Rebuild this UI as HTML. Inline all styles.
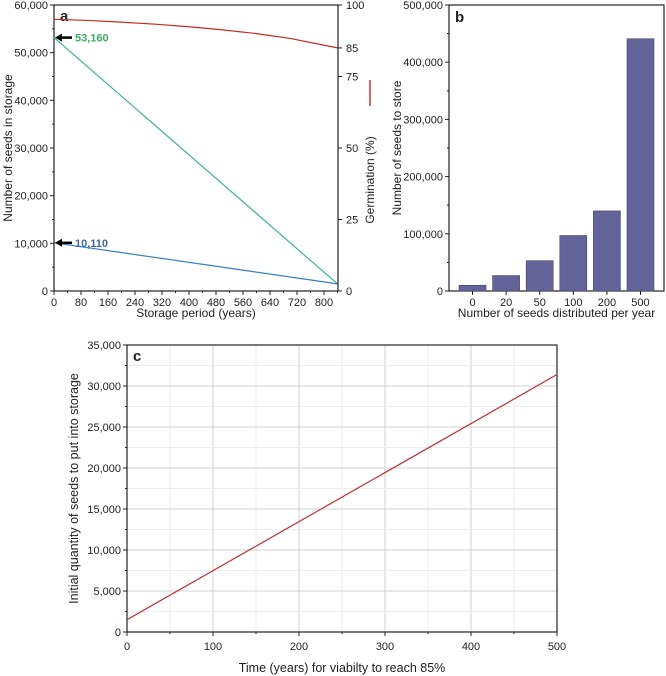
<!DOCTYPE html>
<html><head><meta charset="utf-8"><style>
body{margin:0;background:#fff;}
svg{display:block;font-family:"Liberation Sans",Arial,sans-serif;}
</style></head><body>
<svg id="s" width="666" height="676" viewBox="0 0 666 676">
<g id="A"></g>
<g id="B"></g>
<g id="C"></g>
</svg>
<script>
// Panel a data
const aYears = [0, 840];
const aGreen = [53160, 1500];
const aBlue = [10110, 1500];
const aRedYears = [0, 100, 200, 300, 400, 500, 600, 700, 840];
const aRedGerm = [95, 94.6, 94, 93.3, 92.4, 91.3, 90, 88.3, 85];
const aXTicks = [0,80,160,240,320,400,480,560,640,720,800];
const aYTicks = [0,10000,20000,30000,40000,50000,60000];
const aRTicks = [0,25,50,75,85,100];
// Panel b data
const bCats = ["0","20","50","100","200","500"];
const bVals = [10000, 27000, 53000, 97000, 140000, 441000];
const bYTicks = [0,100000,200000,300000,400000,500000];
// Panel c data
const cX = [0, 500];
const cY = [1500, 31400];
const cXTicks = [0,100,200,300,400,500];
const cYTicks = [0,5000,10000,15000,20000,25000,30000,35000];

const NS="http://www.w3.org/2000/svg";
function mk(p,t,a,txt){const e=document.createElementNS(NS,t);for(const k in a)e.setAttribute(k,a[k]);if(txt!==undefined)e.textContent=txt;p.appendChild(e);return e;}
const fmt=v=>v.toLocaleString('en-US');

// ---- Panel a
(function(){
const g=document.getElementById('A');
const L=54,R=338,T=5,B=291;
const x=v=>L+v*0.3375, y=v=>B-v/60000*(B-T), yr=v=>B-v/100*(B-T);
mk(g,'rect',{x:L,y:T,width:R-L,height:B-T,fill:'none',stroke:'#222','stroke-width':1.2});
aXTicks.forEach(t=>{mk(g,'line',{x1:x(t),x2:x(t),y1:B,y2:B+4,stroke:'#222'});
 const e=mk(g,'text',{x:x(t),y:B+15,'text-anchor':'middle','font-size':11,fill:'#222'},t);
 
 mk(g,'line',{x1:x(t+40),x2:x(t+40),y1:B,y2:B+2,stroke:'#222'});});
aYTicks.forEach(t=>{mk(g,'line',{x1:L-4,x2:L,y1:y(t),y2:y(t),stroke:'#222'});
 mk(g,'line',{x1:L-2,x2:L,y1:y(t+5000),y2:y(t+5000),stroke:'#222'});
 const e=mk(g,'text',{x:L-6,y:y(t)+4,'text-anchor':'end','font-size':11,fill:'#222'},fmt(t));
 });
aRTicks.forEach(t=>{mk(g,'line',{x1:R,x2:R+4,y1:yr(t),y2:yr(t),stroke:'#222'});
 const e=mk(g,'text',{x:R+8,y:yr(t)+4,'font-size':11,fill:'#222'},t);
 });
let e=mk(g,'text',{transform:`translate(12,${(T+B)/2}) rotate(-90)`,'text-anchor':'middle','font-size':12,fill:'#222'},'Number of seeds in storage');

e=mk(g,'text',{transform:`translate(374,180) rotate(-90)`,'text-anchor':'middle','font-size':12,fill:'#222'},'Germination (%)');

e=mk(g,'line',{x1:370,x2:370,y1:80,y2:106,stroke:'#d03030','stroke-width':1.5});

e=mk(g,'text',{x:(L+R)/2,y:317,'text-anchor':'middle','font-size':12,fill:'#222'},'Storage period (years)');

e=mk(g,'text',{x:L+6,y:T+16,'font-size':15,'font-weight':'bold',fill:'#222'},'a');

e=mk(g,'polyline',{points:aRedYears.map((v,i)=>x(v)+','+yr(aRedGerm[i])).join(' '),fill:'none',stroke:'#c82828','stroke-width':1.2});

e=mk(g,'polyline',{points:aYears.map((v,i)=>x(v)+','+y(aGreen[i])).join(' '),fill:'none',stroke:'#3cb878','stroke-width':1.2});

e=mk(g,'polyline',{points:aYears.map((v,i)=>x(v)+','+y(aBlue[i])).join(' '),fill:'none',stroke:'#3a7cc8','stroke-width':1.2});

[[aGreen[0],'#3cb060'],[aBlue[0],'#3a6aa8']].forEach(([v,c])=>{
 const yy=y(v);
 mk(g,'line',{x1:L+5,x2:L+18,y1:yy,y2:yy,stroke:'#000','stroke-width':2.5});
 mk(g,'polygon',{points:`${L+1},${yy} ${L+8},${yy-4} ${L+8},${yy+4}`,fill:'#000'});
 const t=mk(g,'text',{x:L+21,y:yy+4,'font-size':11,'font-weight':'bold',fill:c},fmt(v));
 });
})();

// ---- Panel b
(function(){
const g=document.getElementById('B');
const L=449,R=664,T=5,B=291;
const y=v=>B-v/500000*(B-T);
const step=(R-L)/6.4, x=i=>L+step*(0.7+i);
mk(g,'rect',{x:L,y:T,width:R-L,height:B-T,fill:'none',stroke:'#222','stroke-width':1.2});
bVals.forEach((v,i)=>{const r=mk(g,'rect',{x:x(i)-13.5,y:y(v),width:27,height:B-y(v),fill:'#63639a',stroke:'#44446e','stroke-width':0.6});
 
 mk(g,'line',{x1:x(i),x2:x(i),y1:B,y2:B+4,stroke:'#222'});
 const t=mk(g,'text',{x:x(i),y:B+15,'text-anchor':'middle','font-size':11,fill:'#222'},bCats[i]);
 });
bYTicks.forEach(t=>{mk(g,'line',{x1:L-4,x2:L,y1:y(t),y2:y(t),stroke:'#222'});
 mk(g,'line',{x1:L-2,x2:L,y1:y(t+50000),y2:y(t+50000),stroke:'#222'});
 const e=mk(g,'text',{x:L-6,y:y(t)+4,'text-anchor':'end','font-size':11,fill:'#222'},fmt(t));
 });
let e=mk(g,'text',{transform:`translate(401,${(T+B)/2}) rotate(-90)`,'text-anchor':'middle','font-size':12,fill:'#222'},'Number of seeds to store');

e=mk(g,'text',{x:(L+R)/2,y:317,'text-anchor':'middle','font-size':12,fill:'#222'},'Number of seeds distributed per year');

e=mk(g,'text',{x:L+6,y:T+17,'font-size':15,'font-weight':'bold',fill:'#222'},'b');

})();

// ---- Panel c
(function(){
const g=document.getElementById('C');
const L=127,R=557,T=345,B=632;
const x=v=>L+v/500*(R-L), y=v=>B-v/35000*(B-T);
for(let t=0;t<=500;t+=50)mk(g,'line',{x1:x(t),x2:x(t),y1:T,y2:B,stroke:t%100?'#ececec':'#d0d0d0','stroke-width':1});
for(let t=0;t<=35000;t+=2500)mk(g,'line',{x1:L,x2:R,y1:y(t),y2:y(t),stroke:t%5000?'#ececec':'#d0d0d0','stroke-width':1});
mk(g,'rect',{x:L,y:T,width:R-L,height:B-T,fill:'none',stroke:'#222','stroke-width':1.2});
cXTicks.forEach(t=>{mk(g,'line',{x1:x(t),x2:x(t),y1:B,y2:B+4,stroke:'#222'});
 if(t<500)mk(g,'line',{x1:x(t+50),x2:x(t+50),y1:B,y2:B+2,stroke:'#222'});
 const e=mk(g,'text',{x:x(t),y:B+18,'text-anchor':'middle','font-size':11,fill:'#222'},t);
 });
cYTicks.forEach(t=>{mk(g,'line',{x1:L-4,x2:L,y1:y(t),y2:y(t),stroke:'#222'});
 if(t<35000)mk(g,'line',{x1:L-2,x2:L,y1:y(t+2500),y2:y(t+2500),stroke:'#222'});
 const e=mk(g,'text',{x:L-6,y:y(t)+4,'text-anchor':'end','font-size':11,fill:'#222'},fmt(t));
 });
let e=mk(g,'text',{transform:`translate(78,${(T+B)/2}) rotate(-90)`,'text-anchor':'middle','font-size':12.5,fill:'#222'},'Initial quantity of seeds to put into storage');

e=mk(g,'text',{x:(L+R)/2,y:672,'text-anchor':'middle','font-size':12.5,fill:'#222'},'Time (years) for viabilty to reach 85%');

e=mk(g,'text',{x:L+6,y:T+16,'font-size':15,'font-weight':'bold',fill:'#222'},'c');

e=mk(g,'polyline',{points:cX.map((v,i)=>x(v)+','+y(cY[i])).join(' '),fill:'none',stroke:'#c03030','stroke-width':1.2});

})();
</script>
</body></html>
